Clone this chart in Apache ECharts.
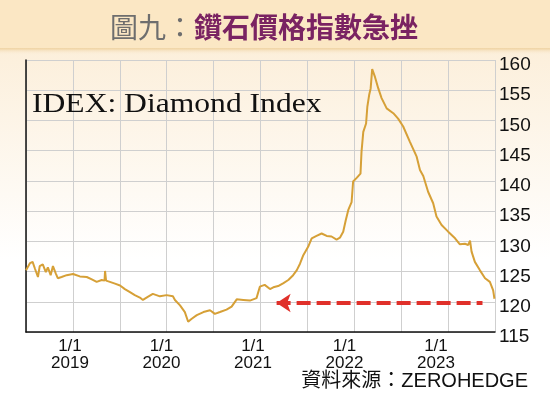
<!DOCTYPE html>
<html>
<head>
<meta charset="utf-8">
<script src="https://cdn.jsdelivr.net/npm/echarts@6/dist/echarts.min.js"></script>
<style>
  html, body { margin: 0; padding: 0; background: #fff; }
  #chart { width: 550px; height: 397px; }
</style>
</head>
<body>
<div id="chart"></div>
<script>
// IDEX diamond index
var dates = [
    '2018-07-08', '2018-07-24', '2018-08-04', '2018-08-13', '2018-08-25', '2018-09-02',
    '2018-09-14', '2018-09-26', '2018-10-04', '2018-10-15', '2018-10-24', '2018-11-05',
    '2018-11-13', '2018-11-28', '2018-12-18', '2019-01-13', '2019-02-10', '2019-03-07',
    '2019-03-27', '2019-04-16', '2019-05-06', '2019-05-17', '2019-05-19', '2019-05-23',
    '2019-06-08', '2019-06-28', '2019-07-18', '2019-08-07', '2019-08-27', '2019-09-16',
    '2019-10-06', '2019-10-18', '2019-11-07', '2019-11-27', '2019-12-25', '2020-01-21',
    '2020-02-16', '2020-02-24', '2020-03-14', '2020-04-03', '2020-04-16', '2020-04-30',
    '2020-05-20', '2020-06-16', '2020-07-12', '2020-08-01', '2020-08-21', '2020-09-17',
    '2020-10-07', '2020-10-27', '2020-11-23', '2020-12-19', '2021-01-15', '2021-01-28',
    '2021-02-17', '2021-03-08', '2021-03-21', '2021-04-10', '2021-05-01', '2021-05-20',
    '2021-06-09', '2021-06-23', '2021-07-06', '2021-07-19', '2021-08-08', '2021-08-22',
    '2021-09-11', '2021-10-01', '2021-10-21', '2021-11-10', '2021-11-30', '2021-12-13',
    '2021-12-26', '2022-01-06', '2022-01-16', '2022-01-29', '2022-02-05', '2022-02-19',
    '2022-03-04', '2022-03-08', '2022-03-15', '2022-03-26', '2022-03-31', '2022-04-08',
    '2022-04-14', '2022-04-20', '2022-05-01', '2022-05-14', '2022-05-27', '2022-06-17',
    '2022-07-13', '2022-08-02', '2022-08-22', '2022-09-18', '2022-10-15', '2022-10-28',
    '2022-11-11', '2022-11-30', '2022-12-20', '2023-01-03', '2023-01-23', '2023-02-19',
    '2023-03-16', '2023-04-05', '2023-04-25', '2023-05-08', '2023-05-15', '2023-05-21',
    '2023-06-04', '2023-06-24', '2023-07-14', '2023-08-03', '2023-08-16', '2023-08-21'
];
var idex = [
    125.2, 126.4, 126.6, 125.5, 124.1, 125.9,
    126.2, 124.9, 125.7, 124.4, 125.9, 124.7,
    123.9, 124.1, 124.4, 124.6, 124.2, 124.1,
    123.7, 123.3, 123.6, 123.5, 125.1, 123.5,
    123.3, 123.0, 122.7, 122.1, 121.6, 121.1,
    120.7, 120.3, 120.8, 121.3, 120.9, 121.1,
    120.9, 120.3, 119.4, 118.3, 116.7, 117.2,
    117.8, 118.3, 118.6, 118.0, 118.3, 118.7,
    119.2, 120.4, 120.3, 120.2, 120.6, 122.5,
    122.8, 122.1, 122.4, 122.6, 123.1, 123.6,
    124.4, 125.2, 126.3, 127.7, 129.1, 130.5,
    130.9, 131.3, 130.9, 130.8, 130.3, 130.6,
    131.6, 133.5, 135.2, 136.5, 139.9, 140.5,
    141.2, 144.8, 148.1, 149.5, 152.3, 154.2,
    155.3, 158.5, 157.2, 155.3, 153.7, 152.0,
    151.2, 150.3, 149.0, 146.5, 144.0, 141.8,
    140.8, 138.2, 136.3, 134.1, 132.7, 131.6,
    130.5, 129.5, 129.6, 129.4, 130.1, 128.3,
    126.6, 125.2, 123.9, 123.3, 121.9, 120.5
];
var yearTicks = [2019, 2020, 2021, 2022, 2023];
// red arrow: from / to dates and level
var arrowFrom = '2021-04-04';
var arrowTo = '2023-07-04';
var arrowLevel = 119.8;

function toYear(s) {
    var p = s.split('-');
    return +p[0] + (p[1] - 1) / 12 + (p[2] - 1) / 360;
}

var chart = echarts.init(document.getElementById('chart'));
var seriesData = dates.map(function (d, i) { return [toYear(d), idex[i]]; });

var option = {
    animation: false,
    backgroundColor: '#ffffff',
    graphic: [
        {
            type: 'rect', z: -10, silent: true,
            shape: { x: 0, y: 50, width: 550, height: 210 },
            style: {
                fill: new echarts.graphic.LinearGradient(0, 0, 0, 1, [
                    { offset: 0, color: '#fcefdb' },
                    { offset: 1, color: '#ffffff' }
                ])
            }
        },
        {
            type: 'rect', z: -9, silent: true,
            shape: { x: 0, y: 0, width: 550, height: 50 },
            style: { fill: '#fbe7c4' }
        },
        {
            type: 'rect', z: -9, silent: true,
            shape: { x: 0, y: 48, width: 550, height: 7 },
            style: {
                fill: new echarts.graphic.LinearGradient(0, 0, 0, 1, [
                    { offset: 0, color: '#efd3a3' },
                    { offset: 1, color: 'rgba(252,239,219,0)' }
                ])
            }
        },
        {
            type: 'text', x: 110, y: 27, z: 10,
            style: {
                text: '{g|圖九：}{p|鑽石價格指數急挫}',
                verticalAlign: 'middle',
                rich: {
                    g: { fill: '#6e6e6e', fontSize: 28, fontFamily: 'Noto Sans CJK TC', fontWeight: 'normal' },
                    p: { fill: '#7a2362', fontSize: 28, fontFamily: 'Noto Sans CJK TC', fontWeight: 'bold' }
                }
            }
        },
        {
            type: 'text', x: 32, y: 105, scaleX: 1.17, z: 10,
            style: {
                text: 'IDEX: Diamond Index',
                fill: '#111',
                verticalAlign: 'middle',
                font: '27px "Liberation Serif", "DejaVu Serif", serif'
            }
        },
        {
            type: 'text', right: 22, top: 371, z: 10,
            style: {
                text: '資料來源：ZEROHEDGE',
                fill: '#111',
                font: '20px "Liberation Sans", "Noto Sans CJK TC", sans-serif'
            }
        }
    ],
    grid: { left: 26, right: 55, top: 60, bottom: 65 },
    xAxis: [
        {
            type: 'value',
            min: toYear('2018-07-08'),
            max: 2023.645,
            axisLine: { show: true, lineStyle: { color: '#111', width: 1.5 } },
            axisTick: { show: false },
            splitLine: { show: false },
            axisLabel: {
                customValues: yearTicks,
                formatter: function (v) { return '1/1\n' + Math.round(v); },
                color: '#111',
                fontSize: 17,
                lineHeight: 17,
                margin: 6,
                fontFamily: '"Liberation Sans", Arial, sans-serif'
            }
        },
        {
            type: 'value',
            min: 0,
            max: 10,
            interval: 1,
            position: 'bottom',
            axisLine: { show: false },
            axisTick: { show: false },
            axisLabel: { show: false },
            splitLine: { show: true, lineStyle: { color: '#cfcfcf', width: 1 } }
        }
    ],
    yAxis: {
        type: 'value',
        position: 'right',
        min: 115,
        max: 160,
        interval: 5,
        axisLine: { show: true, lineStyle: { color: '#111', width: 1.5 } },
        axisTick: { show: false },
        splitLine: { show: true, lineStyle: { color: '#cfcfcf', width: 1 } },
        axisLabel: {
            color: '#111',
            fontSize: 19,
            margin: 4,
            verticalAlign: 'top',
            lineHeight: 10,
            fontFamily: '"Liberation Sans", Arial, sans-serif'
        }
    },
    series: [
        {
            type: 'line',
            xAxisIndex: 0,
            data: seriesData,
            showSymbol: false,
            lineStyle: { color: '#d6a037', width: 2 },
            markLine: {
                silent: true,
                symbol: ['arrow', 'none'],
                symbolSize: [14, 14],
                label: { show: false },
                lineStyle: { color: '#e0302a', width: 4, type: [14, 6], opacity: 1 },
                data: [[
                    { coord: [toYear(arrowFrom), arrowLevel] },
                    { coord: [toYear(arrowTo), arrowLevel] }
                ]]
            }
        }
    ]
};

option && chart.setOption(option);
</script>
</body>
</html>
